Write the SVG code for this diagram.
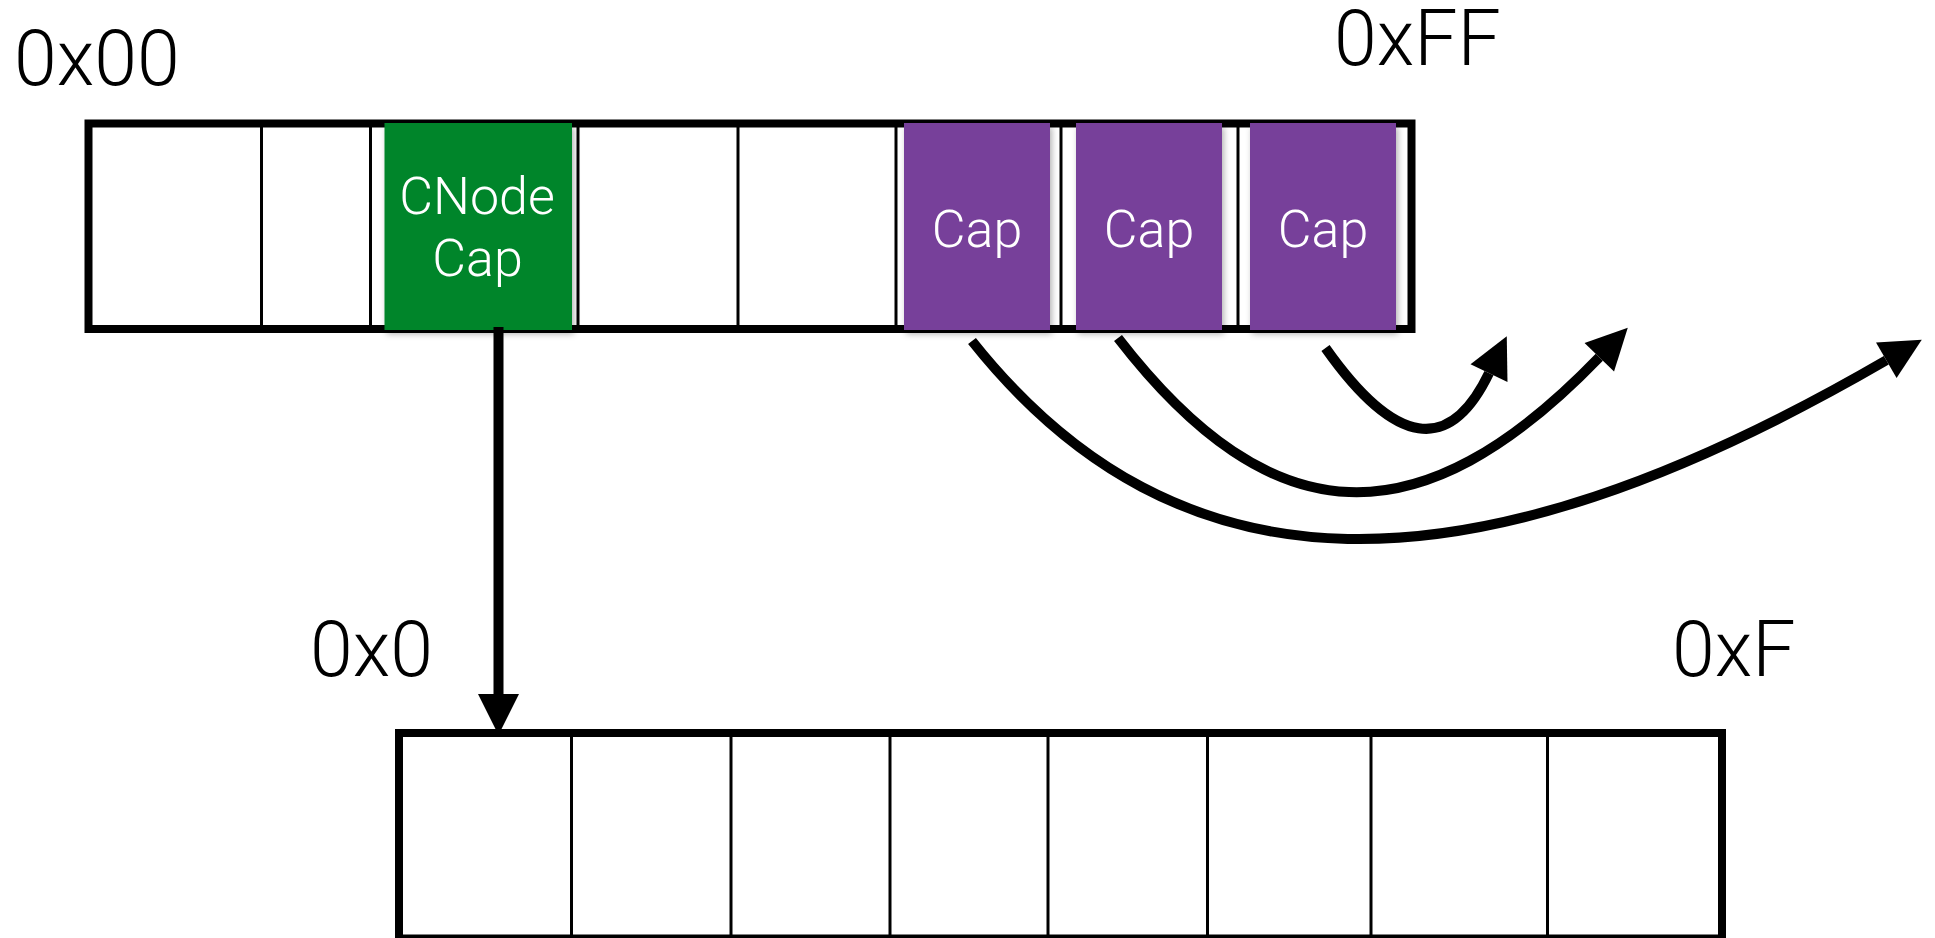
<svg xmlns="http://www.w3.org/2000/svg" width="1935" height="938" viewBox="0 0 1935 938">
  <style>
    .label { font-family: "Helvetica Neue", Roboto, "Liberation Sans", sans-serif; font-weight: 300; font-size: 77px; fill: #000; }
    .cap { font-family: "Helvetica Neue", Roboto, "Liberation Sans", sans-serif; font-weight: 300; font-size: 52px; fill: #fff; text-anchor: middle; }
    .frame { fill: #fff; stroke: #000; stroke-width: 8; }
    .div { stroke: #000; stroke-width: 3; }
    .purple { fill: #773F9A; filter: url(#shadow); }
    .green { fill: #00852B; filter: url(#shadow); }
    .link { fill: none; stroke: #000; stroke-width: 10; marker-end: url(#head); }
  </style>
  <defs>
    <filter id="shadow" x="-10%" y="-10%" width="125%" height="125%">
      <feDropShadow dx="2" dy="4" stdDeviation="3" flood-color="#000" flood-opacity="0.3"/>
    </filter>
    <marker id="head" markerUnits="userSpaceOnUse" viewBox="0 -22 42 44" markerWidth="42" markerHeight="44" refX="0" refY="0" orient="auto" overflow="visible">
      <path d="M0,-20.5 L41,0 L0,20.5 Z" fill="#000"/>
    </marker>
  </defs>

  <rect width="1935" height="938" fill="#fff"/>

  <!-- address labels -->
  <text class="label" x="14" y="85">0x00</text>
  <text class="label" x="1334" y="65">0xFF</text>
  <text class="label" x="310" y="676">0x0</text>
  <text class="label" x="1672" y="676">0xF</text>

  <!-- upper table -->
  <g id="table-top">
    <rect class="frame" x="88.5" y="123.5" width="1323" height="205.5"/>
    <line class="div" x1="261.5" y1="123.5" x2="261.5" y2="329"/>
    <line class="div" x1="370.5" y1="123.5" x2="370.5" y2="329"/>
    <line class="div" x1="578" y1="123.5" x2="578" y2="329"/>
    <line class="div" x1="738" y1="123.5" x2="738" y2="329"/>
    <line class="div" x1="896" y1="123.5" x2="896" y2="329"/>
    <line class="div" x1="1061" y1="123.5" x2="1061" y2="329"/>
    <line class="div" x1="1238" y1="123.5" x2="1238" y2="329"/>
  </g>

  <!-- lower table -->
  <g id="table-bottom">
    <rect class="frame" x="399" y="733" width="1323" height="205.5"/>
    <line class="div" x1="571.5" y1="733" x2="571.5" y2="938"/>
    <line class="div" x1="731" y1="733" x2="731" y2="938"/>
    <line class="div" x1="890" y1="733" x2="890" y2="938"/>
    <line class="div" x1="1048" y1="733" x2="1048" y2="938"/>
    <line class="div" x1="1207.5" y1="733" x2="1207.5" y2="938"/>
    <line class="div" x1="1371" y1="733" x2="1371" y2="938"/>
    <line class="div" x1="1547.5" y1="733" x2="1547.5" y2="938"/>
  </g>

  <!-- capability slots -->
  <g id="cnode-cap">
    <rect class="green" x="384.5" y="123" width="187.5" height="207"/>
    <text class="cap" x="477" y="214">CNode</text>
    <text class="cap" x="477.5" y="276">Cap</text>
  </g>
  <g id="cap-1">
    <rect class="purple" x="904" y="123" width="146" height="207"/>
    <text class="cap" x="977" y="247">Cap</text>
  </g>
  <g id="cap-2">
    <rect class="purple" x="1076" y="123" width="146" height="207"/>
    <text class="cap" x="1149" y="247">Cap</text>
  </g>
  <g id="cap-3">
    <rect class="purple" x="1250" y="123" width="146" height="207"/>
    <text class="cap" x="1323" y="247">Cap</text>
  </g>

  <!-- connectors -->
  <g id="connectors">
    <path class="link" d="M498.5,327 L498.5,694"/>
    <path class="link" d="M972,341 C1176.6,598.4 1464.6,605 1886.3,360.3"/>
    <path class="link" d="M1118,338 C1271.7,537 1419.6,543.4 1599.3,357.2"/>
    <path class="link" d="M1325.5,348 Q1430,496 1489,373.2"/>
  </g>
</svg>
